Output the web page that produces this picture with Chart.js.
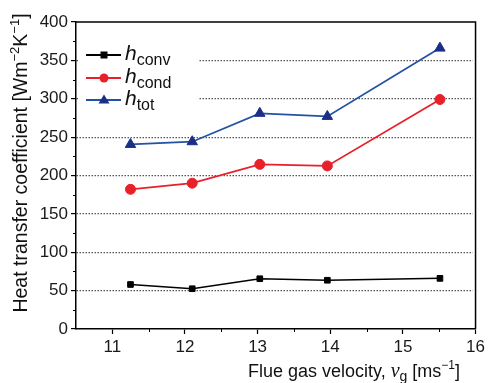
<!DOCTYPE html>
<html>
<head>
<meta charset="utf-8">
<script src="https://cdn.jsdelivr.net/npm/chart.js@4/dist/chart.umd.min.js"></script>
<style>
  html, body { margin: 0; padding: 0; background: #ffffff; }
  #wrap { width: 488px; height: 383px; }
</style>
</head>
<body>
<div id="wrap"><canvas id="c" width="488" height="383"></canvas></div>
<script>
// Flue gas velocity [m/s]
const velocity = [11.25, 12.10, 13.03, 13.96, 15.51];
// Heat transfer coefficients [W m^-2 K^-1]
const hConv = [58, 52.5, 65.5, 63.5, 66];
const hCond = [182, 190, 214.5, 212.5, 299];
const hTot  = [240.5, 244, 281, 277, 366];
const yTicks = [0, 50, 100, 150, 200, 250, 300, 350, 400];
const xTicks = [11, 12, 13, 14, 15, 16];

const SANS = "'Liberation Sans', Arial, sans-serif";
const SERIF = "'Liberation Serif', 'Times New Roman', serif";

function pts(ys) { return velocity.map((v, i) => ({ x: v, y: ys[i] })); }

// draws a run of text pieces with their own font and vertical offset
function richWidth(ctx, parts) {
  let w = 0;
  for (const p of parts) { ctx.font = p.font; w += ctx.measureText(p.t).width; }
  return w;
}
function drawRich(ctx, parts, x, y) {
  let cx = x;
  for (const p of parts) {
    ctx.font = p.font;
    ctx.fillText(p.t, cx, y + (p.dy || 0));
    cx += ctx.measureText(p.t).width;
  }
}

const series = [
  { sub: 'conv', color: '#000000', fill: '#000000', style: 'rect', r: 4 },
  { sub: 'cond', color: '#e8202a', fill: '#e8202a', style: 'circle', r: 5 },
  { sub: 'tot',  color: '#2352a3', fill: '#1c2f86', style: 'triangle', r: 6 }
];

const decor = {
  id: 'decor',
  beforeDatasetsDraw(chart) {
    const ctx = chart.ctx;
    const a = chart.chartArea;
    ctx.save();
    ctx.fillStyle = '#ffffff';
    // legend panel sits above the grid
    ctx.fillRect(a.left + 2, 42, 120, 70);
    // grid stops a little short of the right frame
    ctx.fillRect(a.right - 3, a.top + 2, 3, a.bottom - a.top - 4);
    ctx.restore();
  },
  afterDraw(chart) {
    const ctx = chart.ctx;
    const a = chart.chartArea;
    const xs = chart.scales.x, ys = chart.scales.y;
    ctx.save();
    // frame on top and right
    ctx.strokeStyle = '#000';
    ctx.lineWidth = 1.5;
    ctx.beginPath();
    ctx.moveTo(a.left, a.top);
    ctx.lineTo(a.right, a.top);
    ctx.lineTo(a.right, a.bottom);
    ctx.stroke();
    // minor ticks
    ctx.lineWidth = 1;
    ctx.beginPath();
    for (let v = 11.5; v < 16; v += 1) {
      const px = Math.round(xs.getPixelForValue(v)) + 0.5;
      ctx.moveTo(px, a.bottom);
      ctx.lineTo(px, a.bottom + 3);
    }
    for (let v = 25; v < 400; v += 50) {
      const py = Math.round(ys.getPixelForValue(v)) + 0.5;
      ctx.moveTo(a.left, py);
      ctx.lineTo(a.left - 3, py);
    }
    ctx.stroke();

    // legend
    const rowY = [55, 78, 100];
    series.forEach((s, i) => {
      const y = rowY[i];
      ctx.strokeStyle = s.color;
      ctx.lineWidth = 1.8;
      ctx.beginPath();
      ctx.moveTo(86, y); ctx.lineTo(121, y);
      ctx.stroke();
      ctx.fillStyle = s.fill;
      ctx.beginPath();
      if (s.style === 'rect') {
        ctx.rect(104 - 3.5, y - 3.5, 7, 7);
      } else if (s.style === 'circle') {
        ctx.arc(104, y, 4.5, 0, Math.PI * 2);
      } else {
        ctx.moveTo(104, y - 5.5);
        ctx.lineTo(109.5, y + 3.5);
        ctx.lineTo(98.5, y + 3.5);
        ctx.closePath();
      }
      ctx.fill();
      ctx.fillStyle = '#111';
      ctx.textBaseline = 'alphabetic';
      ctx.textAlign = 'left';
      drawRich(ctx, [
        { t: 'h', font: 'italic 21px ' + SANS, dy: 0 },
        { t: s.sub, font: '16px ' + SANS, dy: 5 }
      ], 125, y + 5);
    });

    // axis titles
    ctx.fillStyle = '#111';
    const xt = [
      { t: 'Flue gas velocity, ', font: '18px ' + SANS },
      { t: 'v', font: 'italic 20px ' + SERIF },
      { t: 'g', font: '14px ' + SANS, dy: 4 },
      { t: ' [ms', font: '18px ' + SANS },
      { t: '\u22121', font: '12px ' + SANS, dy: -8 },
      { t: ']', font: '18px ' + SANS }
    ];
    const xw = richWidth(ctx, xt);
    drawRich(ctx, xt, 354 - xw / 2, 377);

    const yt = [
      { t: 'Heat transfer coefficient [Wm', font: '19.5px ' + SANS },
      { t: '\u22122', font: '13px ' + SANS, dy: -8 },
      { t: 'K', font: '19.5px ' + SANS },
      { t: '\u22121', font: '13px ' + SANS, dy: -8 },
      { t: ']', font: '19.5px ' + SANS }
    ];
    const yw = richWidth(ctx, yt);
    ctx.translate(27, 163);
    ctx.rotate(-Math.PI / 2);
    drawRich(ctx, yt, -yw / 2, 0);
    ctx.restore();
  }
};

const datasets = [hConv, hCond, hTot].map((vals, i) => {
  const s = series[i];
  return {
    label: 'h' + s.sub,
    data: pts(vals),
    showLine: true,
    borderColor: s.color,
    backgroundColor: s.fill,
    borderWidth: i === 0 ? 1.5 : 1.8,
    pointStyle: s.style,
    pointRadius: s.r,
    pointBorderColor: s.fill,
    pointBorderWidth: 1,
    tension: 0
  };
});

new Chart(document.getElementById('c'), {
  type: 'scatter',
  data: { datasets },
  plugins: [decor],
  options: {
    responsive: false,
    animation: false,
    devicePixelRatio: 1,
    layout: { padding: { left: 0, top: 22, right: 11, bottom: 0 } },
    plugins: { legend: { display: false }, tooltip: { enabled: false } },
    scales: {
      x: {
        type: 'linear',
        min: 10.5, max: 16,
        afterFit(s) { s.height = 54; },
        afterBuildTicks(s) { s.ticks = xTicks.map(v => ({ value: v })); },
        border: { display: true, color: '#000', width: 1.5 },
        grid: { drawOnChartArea: false, drawTicks: true, tickLength: 5, tickColor: '#000', tickWidth: 1.2 },
        ticks: { color: '#1a1a1a', font: { family: SANS, size: 17 }, padding: 3, maxRotation: 0 }
      },
      y: {
        min: 0, max: 400,
        afterFit(s) { s.width = 76; },
        afterBuildTicks(s) { s.ticks = yTicks.map(v => ({ value: v })); },
        border: { display: true, color: '#000', width: 1.5, dash: [1.5, 1.5] },
        grid: {
          drawOnChartArea: true,
          color: ctx => (ctx.tick && (ctx.tick.value === 0 || ctx.tick.value === 400)) ? 'rgba(0,0,0,0)' : '#555555',
          lineWidth: 1.2,
          drawTicks: true, tickLength: 5, tickColor: '#000', tickWidth: 1.2, tickBorderDash: []
        },
        ticks: { color: '#1a1a1a', font: { family: SANS, size: 17 }, padding: 3 }
      }
    }
  }
});
</script>
</body>
</html>
